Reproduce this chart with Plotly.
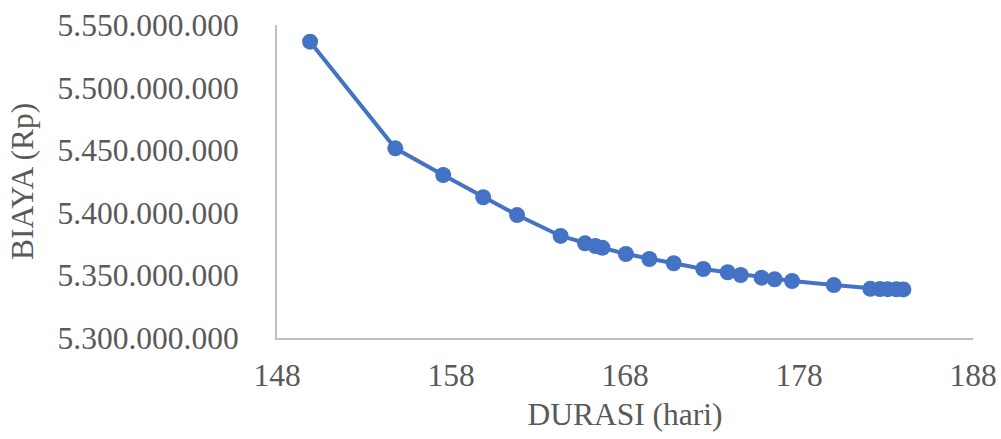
import plotly.graph_objects as go

# Project duration (days) vs. total cost (Rp)
durasi = [149.9, 154.8, 157.55, 159.85, 161.8, 164.3, 165.7, 166.3, 166.7,
          168.05, 169.4, 170.8, 172.5, 173.9, 174.65, 175.85, 176.6, 177.6,
          180.0, 182.1, 182.65, 183.1, 183.6, 184.0]
biaya = [5536700000, 5451500000, 5430200000, 5412400000, 5398200000,
         5381500000, 5375600000, 5373500000, 5372100000, 5367100000,
         5363100000, 5359700000, 5355100000, 5352500000, 5350300000,
         5348200000, 5346900000, 5345500000, 5342300000, 5339300000,
         5339100000, 5339000000, 5338900000, 5338800000]

x_ticks = [148, 158, 168, 178, 188]
y_ticks = [5300000000, 5350000000, 5400000000, 5450000000, 5500000000, 5550000000]

blue = "#4472C4"
grey_txt = "#595959"
axis_col = "#BFBFBF"
font_family = "Liberation Serif"

fig = go.Figure()
fig.add_trace(go.Scatter(
    x=durasi, y=biaya, mode="lines+markers",
    line=dict(color=blue, width=4),
    marker=dict(color=blue, size=16),
    showlegend=False,
))

fig.update_layout(
    width=1001, height=439,
    margin=dict(l=277, r=28, t=25, b=101, autoexpand=False),
    paper_bgcolor="white", plot_bgcolor="white",
    separators=",.",
    font=dict(family=font_family, size=31.5, color=grey_txt),
)
fig.update_xaxes(
    range=[148, 188], tickvals=x_ticks, showgrid=False, zeroline=False,
    showline=True, linecolor=axis_col, linewidth=2,
    ticks="", ticklabelstandoff=8, automargin=False,
    title=dict(text="DURASI (hari)", standoff=11,
               font=dict(family=font_family, size=31.5, color=grey_txt)),
)
fig.update_yaxes(
    range=[5300000000, 5550000000], tickvals=y_ticks, tickformat=",d",
    showgrid=False, zeroline=False,
    showline=True, linecolor=axis_col, linewidth=2,
    ticks="", ticklabelstandoff=30, automargin=False,
    title=dict(text="BIAYA (Rp)", standoff=15,
               font=dict(family=font_family, size=31.5, color=grey_txt)),
)

fig.write_html("out.html")
